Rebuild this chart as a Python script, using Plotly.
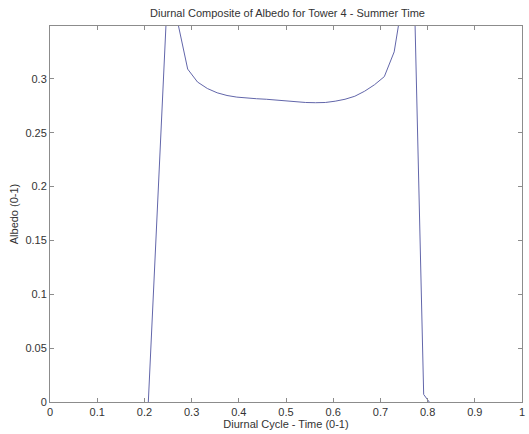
import plotly.graph_objects as go

# Diurnal time (fraction of day) and albedo values
time_frac = [0.2083, 0.2292, 0.25, 0.2708, 0.2917, 0.3125, 0.3333, 0.3542, 0.375,
             0.3958, 0.4167, 0.4375, 0.4583, 0.4792, 0.5, 0.5208, 0.5417, 0.5625,
             0.5833, 0.6042, 0.625, 0.6458, 0.6667, 0.6875, 0.7083, 0.7292, 0.75,
             0.7708, 0.7917, 0.8035]
albedo = [0.0, 0.195, 0.39, 0.352, 0.309, 0.297, 0.291, 0.287, 0.2845,
          0.283, 0.282, 0.2815, 0.281, 0.2802, 0.2795, 0.279, 0.278, 0.2778,
          0.278, 0.2792, 0.281, 0.2838, 0.2885, 0.2945, 0.302, 0.325, 0.381,
          0.40, 0.007, 0.0]

x_ticks = [0, 0.1, 0.2, 0.3, 0.4, 0.5, 0.6, 0.7, 0.8, 0.9, 1]
x_tick_text = ["0", "0.1", "0.2", "0.3", "0.4", "0.5", "0.6", "0.7", "0.8", "0.9", "1"]
y_ticks = [0, 0.05, 0.1, 0.15, 0.2, 0.25, 0.3]
y_tick_text = ["0", "0.05", "0.1", "0.15", "0.2", "0.25", "0.3"]

fig = go.Figure()
fig.add_trace(go.Scatter(
    x=time_frac, y=albedo, mode="lines",
    line=dict(color="#6266aa", width=1),
    showlegend=False, hoverinfo="skip"))

font_family = "Liberation Sans, Arial, sans-serif"
axis_common = dict(
    showgrid=False, zeroline=False, showline=True, linecolor="#8c8c8c", linewidth=1,
    mirror="ticks", ticks="inside", ticklen=4, tickcolor="#8c8c8c", tickwidth=1,
    tickfont=dict(family=font_family, size=11, color="#333333"),
)

fig.update_layout(
    width=529, height=434,
    margin=dict(l=50, r=4, t=26, b=32),
    paper_bgcolor="white", plot_bgcolor="white",
    title=dict(text="Diurnal Composite of Albedo for Tower 4 - Summer Time",
               x=(50 + 475 / 2) / 529, xanchor="center", y=1 - 13 / 434, yanchor="middle",
               font=dict(family=font_family, size=11, color="#333333")),
    xaxis=dict(range=[0, 1], tickvals=x_ticks, ticktext=x_tick_text,
               title=dict(text="Diurnal Cycle - Time (0-1)", standoff=0,
                          font=dict(family=font_family, size=11, color="#333333")),
               **axis_common),
    yaxis=dict(range=[0, 0.349], tickvals=y_ticks, ticktext=y_tick_text,
               title=dict(text="Albedo (0-1)", standoff=4,
                          font=dict(family=font_family, size=11, color="#333333")),
               **axis_common),
)

fig.write_html("out.html")
